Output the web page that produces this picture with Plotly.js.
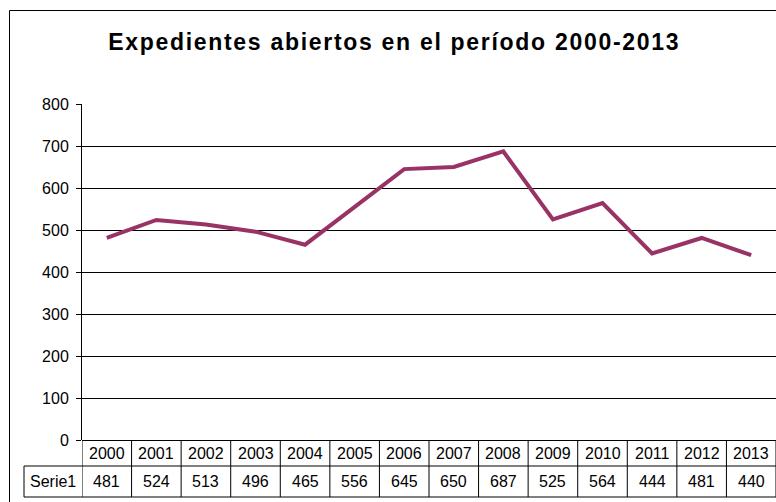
<!DOCTYPE html>
<html><head><meta charset="utf-8">
<script src="https://cdn.plot.ly/plotly-3.0.1.min.js"></script>
<style>html,body{margin:0;padding:0;background:#fff}#c{width:776px;height:502px}
.gtitle{letter-spacing:1.7px}</style>
</head><body><div id="c"></div>
<script>
var years = ['2000','2001','2002','2003','2004','2005','2006','2007','2008','2009','2010','2011','2012','2013'];
var serieName = 'Serie1';
var values = [481,524,513,496,465,556,645,650,687,525,564,444,481,440];
var yTicks = [0,100,200,300,400,500,600,700,800];

var W=776,H=502,L=82,R=0,T=104,B=62;
var pw=W-L-R, ph=H-T-B;
function py(p){return (H-B-p)/ph;}
function px(p){return (p-L)/pw;}

var shapes=[], ann=[];
var font={family:'Liberation Sans, Arial, sans-serif',size:16,color:'#000'};
var ln={color:'#000',width:1};
shapes.push({type:'line',xref:'x',yref:'paper',x0:-0.5,x1:years.length-0.5,y0:py(466),y1:py(466),line:ln});
shapes.push({type:'line',xref:'paper',yref:'paper',x0:px(24),x1:1,y0:py(497),y1:py(497),line:ln});
shapes.push({type:'line',xref:'paper',yref:'paper',x0:px(24),x1:0,y0:py(466),y1:py(466),line:ln});
shapes.push({type:'line',xref:'paper',yref:'paper',x0:px(24),x1:px(24),y0:py(466),y1:py(497),line:ln});
for(var i=0;i<=years.length;i++){
  shapes.push({type:'line',xref:'x',yref:'paper',x0:i-0.5,x1:i-0.5,y0:0,y1:py(497),line:ln});
}
shapes.push({type:'rect',xref:'paper',yref:'paper',x0:px(9.5),x1:px(790),y0:py(520),y1:py(10.5),line:{color:'#000',width:1},fillcolor:'rgba(0,0,0,0)'});
years.forEach(function(y,i){
  ann.push({xref:'x',yref:'paper',x:i,y:py(453),text:y,showarrow:false,font:font,xanchor:'center',yanchor:'middle'});
  ann.push({xref:'x',yref:'paper',x:i,y:py(481.5),text:String(values[i]),showarrow:false,font:font,xanchor:'center',yanchor:'middle'});
});
ann.push({xref:'paper',yref:'paper',x:px(53),y:py(481.5),text:serieName,showarrow:false,font:font,xanchor:'center',yanchor:'middle'});

var data=[{x:years.map(function(_,i){return i;}),y:values,type:'scatter',mode:'lines',
  line:{color:'#993366',width:4},hoverinfo:'skip'}];
var layout={
  width:W,height:H,margin:{l:L,r:R,t:T,b:B},
  paper_bgcolor:'#fff',plot_bgcolor:'#fff',showlegend:false,
  title:{text:'<b>Expedientes abiertos en el período 2000-2013</b>',
    font:{family:'Liberation Sans, Arial, sans-serif',size:23,color:'#000'},
    x:0.508,xanchor:'center',y:1-42/H,yanchor:'middle',yref:'container'},
  xaxis:{range:[-0.5,years.length-0.5],showticklabels:false,showgrid:false,zeroline:false,
    showline:false,ticks:'',fixedrange:true},
  yaxis:{range:[0,800],tickvals:yTicks,ticktext:yTicks.map(String),showgrid:true,gridcolor:'#000',gridwidth:1,
    showline:true,linecolor:'#000',linewidth:1,mirror:true,ticks:'outside',ticklen:5,tickcolor:'#000',
    zeroline:true,zerolinecolor:'#000',zerolinewidth:1,
    tickfont:font,ticklabelstandoff:4},
  shapes:shapes,annotations:ann
};
Plotly.newPlot('c',data,layout,{staticPlot:true});
</script></body></html>
